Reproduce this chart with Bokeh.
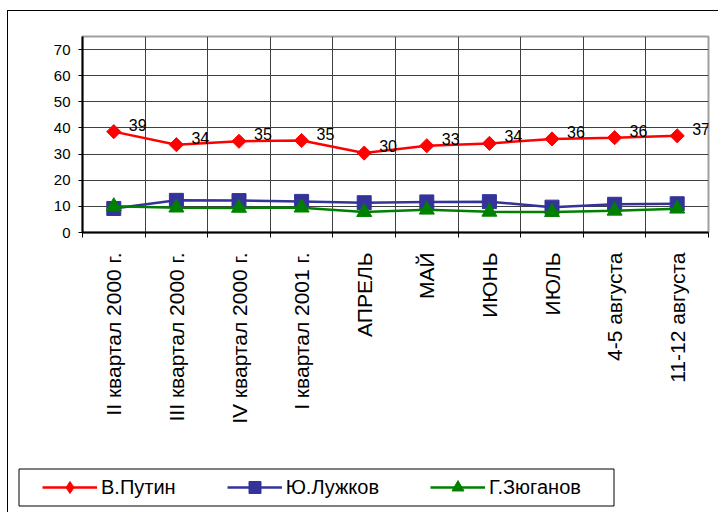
import math
from bokeh.plotting import figure
from bokeh.layouts import column
from bokeh.models import Range1d, FixedTicker, Legend, LegendItem, BoxAnnotation
from bokeh.core.properties import value
from bokeh.embed import file_html
from bokeh.resources import INLINE

# ---- data ----
categories = ["II квартал 2000 г.", "III квартал 2000 г.", "IV квартал 2000 г.",
              "I квартал 2001 г.", "АПРЕЛЬ", "МАЙ", "ИЮНЬ", "ИЮЛЬ",
              "4-5 августа", "11-12 августа"]
putin = [38.6, 33.6, 34.9, 35.2, 30.4, 33.2, 34.1, 35.8, 36.3, 37.0]
putin_labels = ["39", "34", "35", "35", "30", "33", "34", "36", "36", "37"]
luzhkov = [9.2, 12.3, 12.2, 11.9, 11.4, 11.7, 11.8, 9.7, 10.8, 11.0]
zyuganov = [10.0, 9.5, 9.4, 9.5, 7.8, 8.7, 7.9, 7.8, 8.3, 9.1]
y_ticks = [0, 10, 20, 30, 40, 50, 60, 70]
series_names = ["В.Путин", "Ю.Лужков", "Г.Зюганов"]

FONT = "Liberation Sans"
n = len(categories)
xs = [i + 0.5 for i in range(n)]

red, blue, green = "#FF0000", "#333399", "#008000"
styles = [
    dict(line_color=red, marker="square", legend_marker="diamond", angle=math.pi / 4, size=10, color=red),
    dict(line_color=blue, marker="square", legend_marker="square", angle=0.0, size=14, color=blue),
    dict(line_color=green, marker="triangle", legend_marker="triangle", angle=0.0, size=15, color=green),
]
series = [putin, luzhkov, zyuganov]

p = figure(width=710, height=450, output_backend="svg", toolbar_location=None,
           x_range=Range1d(0, n), y_range=Range1d(0, 75),
           min_border_left=74, min_border_right=10, min_border_top=25,
           min_border_bottom=229)
p.background_fill_color = "white"
p.border_fill_color = "white"
p.outline_line_color = "#a0a0a0"
p.outline_line_width = 2

# x axis
xa = p.xaxis[0]
xa.ticker = FixedTicker(ticks=xs, minor_ticks=list(range(n + 1)))
xa.major_label_overrides = {x: c for x, c in zip(xs, categories)}
xa.major_label_orientation = math.pi / 2
xa.major_tick_out = 0
xa.major_tick_in = 0
xa.minor_tick_out = 5
xa.minor_tick_in = 0
xa.minor_tick_line_color = "black"
xa.axis_line_color = "black"
xa.axis_line_width = 2
xa.major_label_text_font = FONT
xa.major_label_text_font_size = "21px"
xa.major_label_text_color = "black"
xa.major_label_standoff = 15

# y axis
ya = p.yaxis[0]
ya.ticker = FixedTicker(ticks=y_ticks)
ya.major_tick_out = 4
ya.major_tick_in = 0
ya.minor_tick_out = 0
ya.minor_tick_in = 0
ya.major_tick_line_color = "black"
ya.axis_line_color = "black"
ya.axis_line_width = 2
ya.major_label_text_font = FONT
ya.major_label_text_font_size = "15px"
ya.major_label_text_color = "black"
ya.major_label_standoff = 8

# grids
p.xgrid[0].ticker = FixedTicker(ticks=list(range(1, n)))
p.xgrid[0].grid_line_color = "#404040"
p.xgrid[0].grid_line_width = 1
p.ygrid[0].ticker = FixedTicker(ticks=y_ticks[1:])
p.ygrid[0].grid_line_color = "#404040"
p.ygrid[0].grid_line_width = 1

# series
for vals, st in zip(series, styles):
    p.line(xs, vals, line_color=st["line_color"], line_width=2.5)
    p.scatter(xs, vals, marker=st["marker"], angle=st["angle"], size=st["size"],
              fill_color=st["color"], line_color=st["color"])

p.text(xs, putin, text=putin_labels, x_offset=15, y_offset=-7,
       text_align="left", text_baseline="middle", text_font=value(FONT),
       text_font_size="16px", text_color="black")

# legend strip: a small figure below; its series sit on hidden ranges
lg = figure(width=710, height=51, output_backend="svg", toolbar_location=None,
            x_range=Range1d(0, 710), y_range=Range1d(0, 51),
            x_axis_location=None, y_axis_location=None,
            min_border_left=0, min_border_right=0, min_border_top=0, min_border_bottom=0)
lg.extra_x_ranges = {"hid": Range1d(0, 0.01)}
lg.extra_y_ranges = {"hid": Range1d(0, 0.01)}
lg.grid.visible = False
lg.outline_line_color = None
lg.background_fill_color = "white"
lg.border_fill_color = "white"
items = []
for name, vals, st in zip(series_names, series, styles):
    rl = lg.line(xs, vals, line_color=st["line_color"], line_width=2.5,
                 x_range_name="hid", y_range_name="hid")
    rm = lg.scatter(xs, vals, marker=st["legend_marker"], size=st["size"],
                    fill_color=st["color"], line_color=st["color"],
                    x_range_name="hid", y_range_name="hid")
    items.append(LegendItem(label=name, renderers=[rl, rm]))

legend_box = BoxAnnotation(left=10.5, right=605.5, bottom=6.5, top=43.5,
                           fill_color=None, line_color="black", line_alpha=1,
                           line_width=1)
lg.add_layout(legend_box)

legend = Legend(items=items, location=(30, 6),
                orientation="horizontal", margin=0, padding=4,
                spacing=51, glyph_width=55, glyph_height=30, label_height=20,
                label_standoff=4, label_text_font=FONT, label_text_font_size="20px",
                label_text_color="black", border_line_alpha=0,
                background_fill_alpha=0)
lg.add_layout(legend, "center")

for fig in (p, lg):
    if "frame_align" in fig.properties():
        fig.frame_align = False

layout = column(p, lg, spacing=0)
layout.styles = {"margin-left": "7px", "margin-top": "10px",
                 "border-left": "1px solid black", "border-top": "1px solid black"}

open("out.html", "w").write(file_html(layout, INLINE))
